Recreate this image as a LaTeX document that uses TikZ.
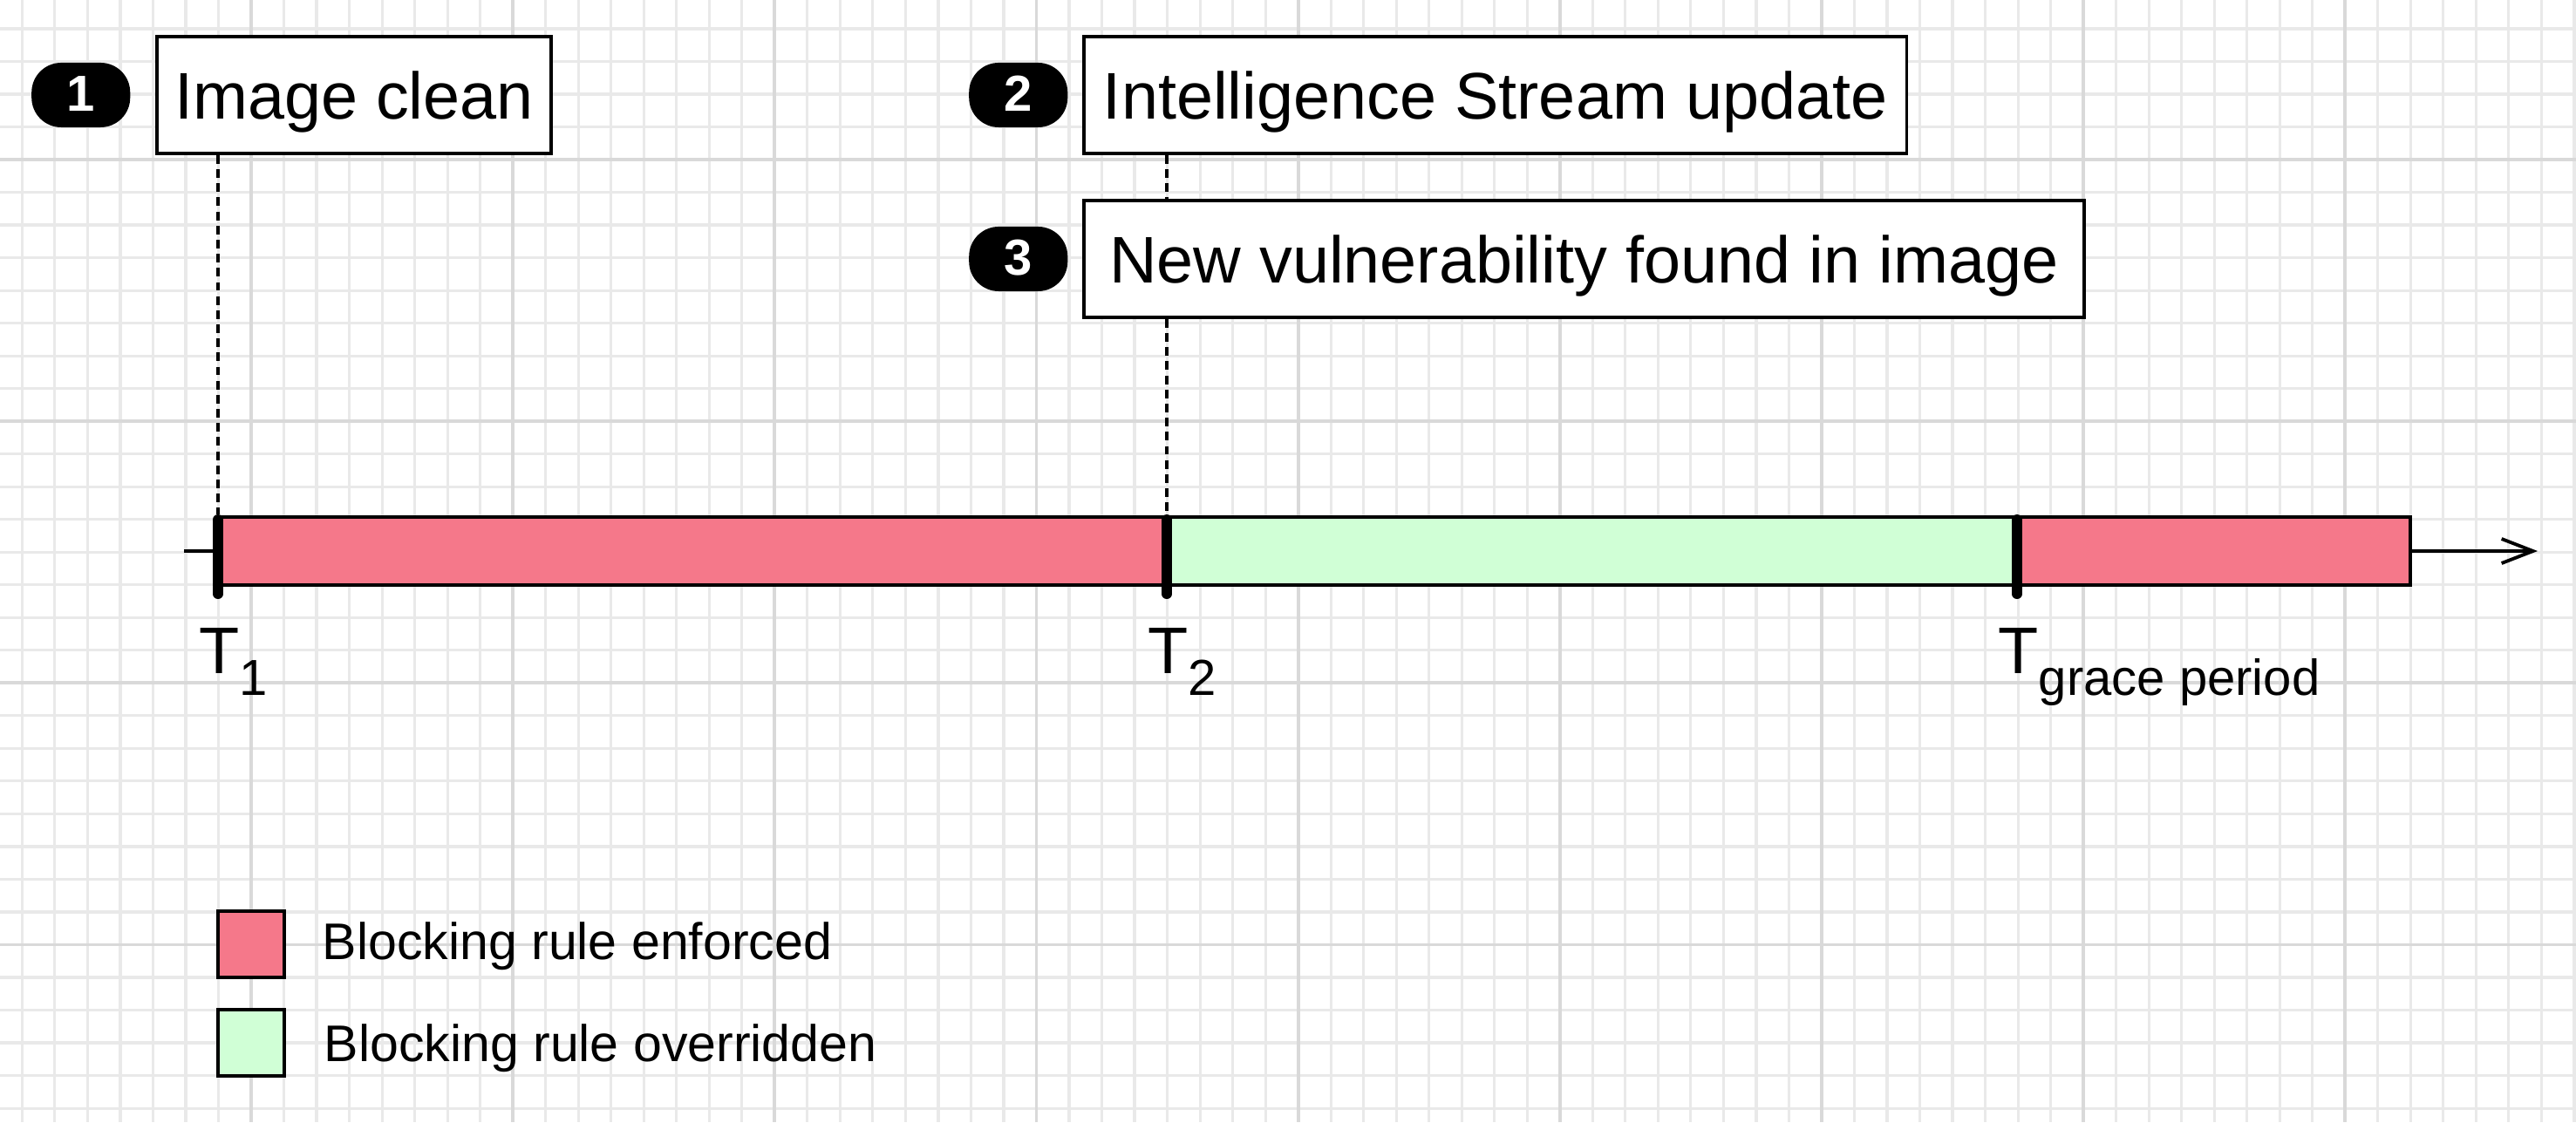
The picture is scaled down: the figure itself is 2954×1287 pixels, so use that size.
\documentclass[tikz,border=0pt]{standalone}
\usepackage{fontspec}
\setmainfont{Liberation Sans}
\usetikzlibrary{positioning,arrows.meta}

\definecolor{enforced}{HTML}{F5788A}
\definecolor{overridden}{HTML}{D0FFD6}
\definecolor{gridminor}{HTML}{E9E9E9}
\definecolor{gridmajor}{HTML}{D9D9D9}

\newcommand{\timesub}[1]{T\raisebox{-0.25cm}{\fontsize{16.5}{19}\selectfont #1}}

\begin{document}
\begin{tikzpicture}[x=0.01cm,y=-0.01cm,>={Straight Barb[length=3.6mm,width=2.8mm]},
  gridline/.style={gridminor,line width=0.9pt},
  gridbold/.style={gridmajor,line width=1.1pt},
  event/.style={rectangle,draw,fill=white,line width=1.1pt,minimum height=1.34cm,inner sep=0pt,
    text height=15.4pt,text depth=0pt,font=\fontsize{21.5}{26}\selectfont},
  badge/.style={rectangle,rounded corners=0.34cm,fill=black,text=white,minimum width=1.13cm,minimum height=0.74cm,
    inner sep=0pt,text height=10.8pt,text depth=0pt,font=\fontsize{16.5}{19}\selectfont\bfseries},
  span/.style={draw,line width=1.1pt},
  tickbar/.style={line width=3.4pt,line cap=round},
  guide/.style={line width=1.1pt,dash pattern=on 2.8pt off 1.8pt},
  tlabel/.style={font=\fontsize{21.5}{26}\selectfont,inner sep=0pt,anchor=base west},
  swatch/.style={rectangle,draw,line width=1.1pt,minimum width=0.76cm,minimum height=0.76cm,inner sep=0pt},
  legend/.style={font=\fontsize{16.8}{20}\selectfont,inner sep=0pt,anchor=base west}]
  \useasboundingbox (0,0) rectangle (2954,1287);
  % background grid
  \foreach \k in {-7,...,71}
    \draw[gridline] ({288+37.52*\k},0) -- ({288+37.52*\k},1287);
  \foreach \k in {-4,...,29}
    \draw[gridline] (0,{183+37.52*\k}) -- (2954,{183+37.52*\k});
  \foreach \k in {0,...,8}
    \draw[gridbold] ({288+300.16*\k},0) -- ({288+300.16*\k},1287);
  \foreach \k in {0,...,3}
    \draw[gridbold] (0,{183+300.16*\k}) -- (2954,{183+300.16*\k});

  % events
  \node[event,minimum width=4.52cm,anchor=north west] (clean) at (178,40) {Image clean};
  \node[event,minimum width=9.43cm,anchor=north west] (stream) at (1241,40) {Intelligence Stream update};
  \node[event,minimum width=11.46cm,anchor=north west] (vuln) at (1241,228) {New vulnerability found in image};
  \node[badge,left=0.28cm of clean] (b1) {1};
  \node[badge,left=0.16cm of stream] (b2) {2};
  \node[badge,left=0.16cm of vuln] (b3) {3};

  % timeline
  \coordinate (axstart) at (211,632);
  \coordinate (axend) at (2910,632);
  \coordinate (t1) at (250,590);
  \coordinate (t2) at (1338,590);
  \coordinate (tg) at (2313,590);
  \draw[->,line width=1.1pt] (axstart) -- (axend);
  \draw[span,fill=enforced] (250,593) rectangle (1338,671);
  \draw[span,fill=overridden] (1338,593) rectangle (2313,671);
  \draw[span,fill=enforced] (2313,593) rectangle (2764,671);
  \foreach \t in {t1,t2,tg}
    \draw[tickbar] ([yshift=-0.06cm]\t) -- ([yshift=-0.91cm]\t);

  \draw[guide] (clean.south -| t1) -- (t1);
  \draw[guide] (stream.south -| t2) -- (vuln.north -| t2);
  \draw[guide] (vuln.south -| t2) -- (t2);

  \node[tlabel] (l1) at (228,772) {\timesub{1}};
  \node[tlabel] (l2) at (1316,772) {\timesub{2}};
  \node[tlabel] (lg) at (2291,772) {\timesub{grace period}};

  % legend
  \node[swatch,fill=enforced] (swred) at (288,1083) {};
  \node[swatch,fill=overridden] (swgreen) at (288,1196) {};
  \node[legend] (lred) at (369,1100) {Blocking rule enforced};
  \node[legend] (lgreen) at (371,1217) {Blocking rule overridden};
\end{tikzpicture}
\end{document}
